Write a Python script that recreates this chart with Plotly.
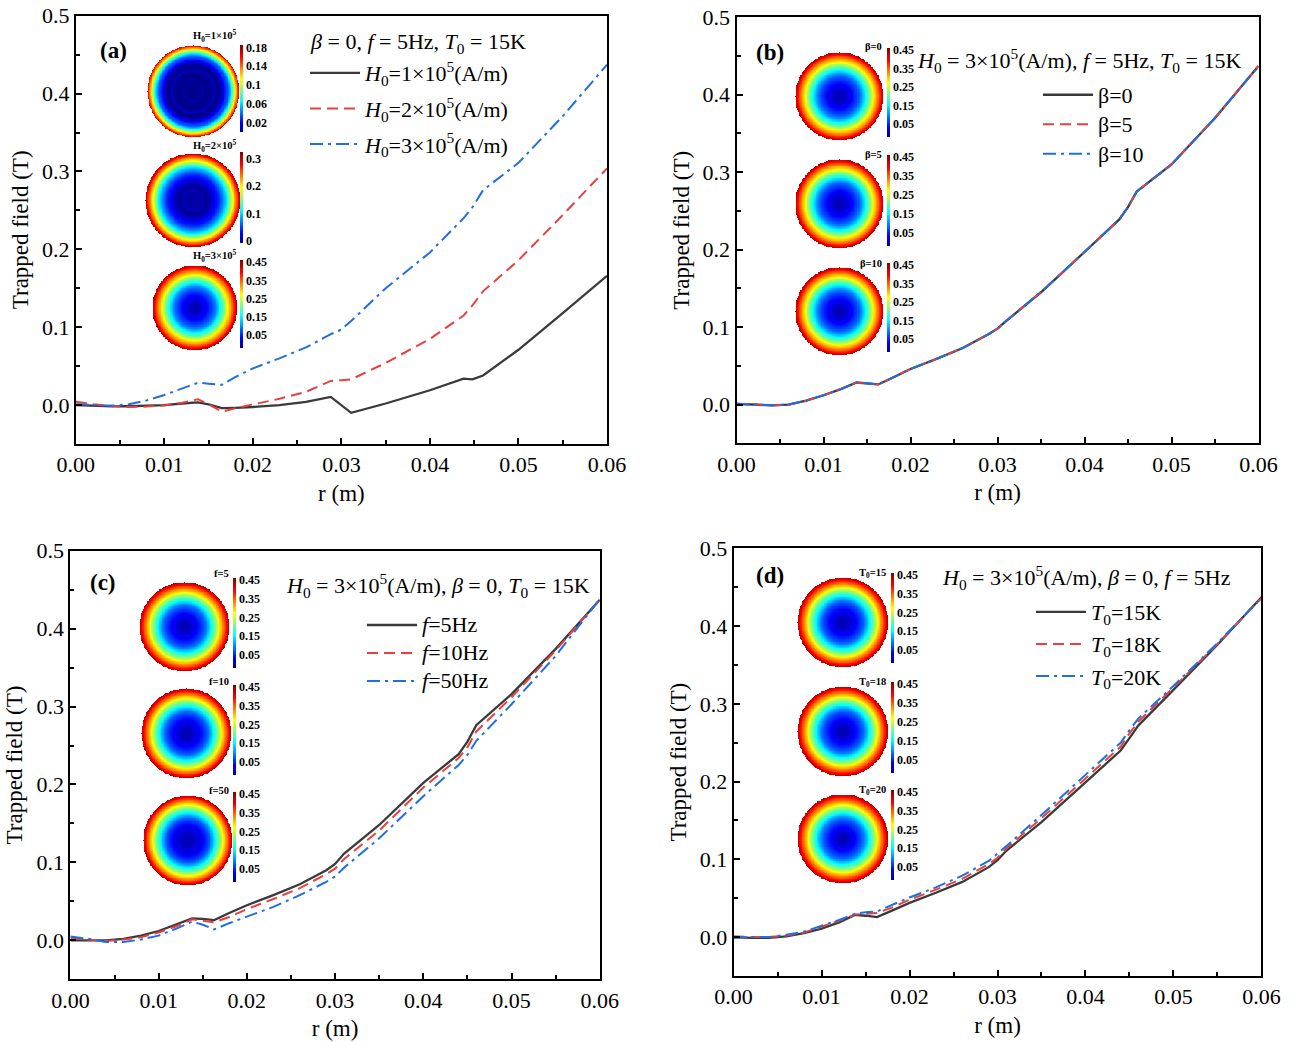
import numpy as np
import plotly.graph_objects as go

W, H = 1293, 1042
FONT = "Liberation Serif, Times New Roman, serif"

# ---------------- data ----------------
# (a) varying applied field amplitude H0
r_a = [0.000, 0.002, 0.004, 0.006, 0.008, 0.010, 0.012, 0.0138, 0.0150, 0.0165, 0.018, 0.020,
       0.023, 0.026, 0.0288, 0.030, 0.0311, 0.035, 0.040, 0.0438, 0.0448, 0.046, 0.050, 0.055, 0.060]
b_H0_1e5 = [0.000, -0.001, -0.0015, -0.0015, -0.001, 0.000, 0.002, 0.0035, 0.001, -0.004, -0.0035, -0.0025,
            0.000, 0.004, 0.0105, -0.0003, -0.0100, 0.002, 0.019, 0.034, 0.033, 0.038, 0.071, 0.118, 0.166]
b_H0_2e5 = [0.0043, 0.001, -0.001, -0.0025, -0.002, -0.0005, 0.003, 0.0075, 0.001, -0.0085, -0.004, 0.001,
            0.008, 0.017, 0.031, 0.032, 0.033, 0.054, 0.085, 0.115, 0.128, 0.146, 0.186, 0.244, 0.304]
b_H0_3e5 = [0.001, 0.000, -0.001, 0.001, 0.006, 0.013, 0.021, 0.0287, 0.0275, 0.026, 0.036, 0.047,
            0.060, 0.074, 0.091, 0.097, 0.108, 0.150, 0.196, 0.240, 0.254, 0.276, 0.311, 0.371, 0.437]

# common radial grid for (b), (c), (d)
r_s = [0.000, 0.002, 0.004, 0.006, 0.008, 0.010, 0.012, 0.0138, 0.0150, 0.0163, 0.018, 0.020,
       0.023, 0.026, 0.029, 0.030, 0.031, 0.035, 0.040, 0.044, 0.045, 0.046, 0.050, 0.055, 0.060]

# (b) varying beta -- the three curves coincide
b_beta0 = [0.001, 0.000, -0.001, 0.000, 0.005, 0.012, 0.020, 0.0285, 0.0275, 0.026, 0.035, 0.046,
           0.059, 0.073, 0.091, 0.098, 0.108, 0.145, 0.197, 0.239, 0.255, 0.275, 0.310, 0.370, 0.437]
b_beta5 = list(b_beta0)
b_beta10 = list(b_beta0)

# (c) varying frequency
b_f5 = [0.000, 0.000, 0.000, 0.002, 0.006, 0.012, 0.020, 0.028, 0.0275, 0.026, 0.035, 0.045,
        0.058, 0.072, 0.090, 0.098, 0.111, 0.148, 0.202, 0.239, 0.255, 0.276, 0.316, 0.374, 0.437]
b_f10 = [0.003, 0.001, -0.001, 0.001, 0.004, 0.010, 0.018, 0.027, 0.025, 0.023, 0.030, 0.040,
         0.053, 0.067, 0.085, 0.092, 0.104, 0.141, 0.196, 0.234, 0.248, 0.268, 0.312, 0.372, 0.437]
b_f50 = [0.005, 0.002, -0.002, -0.002, 0.001, 0.006, 0.015, 0.024, 0.020, 0.014, 0.022, 0.030,
         0.043, 0.058, 0.075, 0.082, 0.093, 0.131, 0.185, 0.225, 0.238, 0.256, 0.303, 0.365, 0.438]

# (d) varying operating temperature
b_T15 = [0.000, -0.001, -0.001, 0.001, 0.005, 0.011, 0.019, 0.0285, 0.0275, 0.0257, 0.034, 0.044,
         0.057, 0.071, 0.090, 0.099, 0.111, 0.148, 0.199, 0.240, 0.256, 0.272, 0.318, 0.376, 0.437]
b_T18 = [0.001, 0.000, 0.000, 0.002, 0.006, 0.013, 0.021, 0.029, 0.030, 0.031, 0.038, 0.048,
         0.061, 0.075, 0.094, 0.102, 0.114, 0.153, 0.204, 0.245, 0.262, 0.277, 0.321, 0.377, 0.436]
b_T20 = [-0.001, 0.000, 0.000, 0.003, 0.007, 0.014, 0.022, 0.030, 0.032, 0.033, 0.041, 0.051,
         0.064, 0.079, 0.098, 0.107, 0.117, 0.157, 0.208, 0.250, 0.266, 0.281, 0.323, 0.378, 0.436]

x_ticks = [0.00, 0.01, 0.02, 0.03, 0.04, 0.05, 0.06]
y_ticks = [0.0, 0.1, 0.2, 0.3, 0.4, 0.5]

# ---------------- styles ----------------
STYLE = {
    "k": dict(color="#3a3a3a", width=2.3, dash="solid"),
    "r": dict(color="#e8403f", width=2.0, dash="11px,6px"),
    "b": dict(color="#1f6fdf", width=2.0, dash="13px,5px,3px,5px"),
}

# classic jet colour map
JET = [[0.0, "#00008f"], [0.11, "#0000ff"], [0.36, "#00ffff"], [0.61, "#ffff00"],
       [0.86, "#ff0000"], [1.0, "#800000"]]

def fx(p):
    return p / W

def fy(p):
    return 1 - p / H

def big(txt, size=22):
    return f"<span style='font-size:{size}px'>{txt}</span>"

# panel geometry in pixels: x-left, x-right, y-top, y-bottom
panels = [
    dict(box=(75.8, 607.0, 15.7, 444.0), label="(a)", label_xy=(113, 50),
         header="<i>β</i> = 0, <i>f</i> = 5Hz, <i>T</i><sub>0</sub> = 15K", header_xy=(308, 43),
         legend_xy=(305, 52), legend_fs=22, gap=4,
         series=[("<i>H</i><sub>0</sub>=1×10<sup>5</sup>(A/m)", r_a, b_H0_1e5, "k"),
                 ("<i>H</i><sub>0</sub>=2×10<sup>5</sup>(A/m)", r_a, b_H0_2e5, "r"),
                 ("<i>H</i><sub>0</sub>=3×10<sup>5</sup>(A/m)", r_a, b_H0_3e5, "b")],
         insets=dict(
             disks=[(147, 239, 45, 137), (145, 240, 153, 247), (152, 237, 265, 350)],
             cbx=240, bars=[(45, 132), (152, 243), (260, 348)],
             titles=["H<sub>0</sub>=1×10<sup>5</sup>", "H<sub>0</sub>=2×10<sup>5</sup>",
                     "H<sub>0</sub>=3×10<sup>5</sup>"],
             title_x=239, title_y=[36, 146, 256],
             scales=[(0.0, 0.185, [0.02, 0.06, 0.1, 0.14, 0.18], ["0.02", "0.06", "0.1", "0.14", "0.18"]),
                     (-0.008, 0.323, [0, 0.1, 0.2, 0.3], ["0", "0.1", "0.2", "0.3"]),
                     None])),
    dict(box=(736.5, 1258.5, 17.3, 443.3), label="(b)", label_xy=(770, 52),
         header="<i>H</i><sub>0</sub> = 3×10<sup>5</sup>(A/m), <i>f</i> = 5Hz, <i>T</i><sub>0</sub> = 15K",
         header_xy=(915, 60), legend_xy=(1038, 75), legend_fs=20.4, gap=0,
         series=[("β=0", r_s, b_beta0, "k"), ("β=5", r_s, b_beta5, "r"), ("β=10", r_s, b_beta10, "b")],
         insets=dict(
             disks=[(795, 883, 52, 140), (795, 883, 159, 248), (795, 883, 267, 355)],
             cbx=887, bars=[(48, 137), (155, 246), (263, 352)],
             titles=["β=0", "β=5", "β=10"], title_x=884, title_y=[46, 154, 263],
             scales=[None, None, None])),
    dict(box=(70.4, 599.8, 550.7, 979.3), label="(c)", label_xy=(103, 582),
         header="<i>H</i><sub>0</sub> = 3×10<sup>5</sup>(A/m), <i>β</i> = 0, <i>T</i><sub>0</sub> = 15K",
         header_xy=(284, 585), legend_xy=(362, 606), legend_fs=19.2, gap=0,
         series=[("<i>f</i>=5Hz", r_s, b_f5, "k"), ("<i>f</i>=10Hz", r_s, b_f10, "r"),
                 ("<i>f</i>=50Hz", r_s, b_f50, "b")],
         insets=dict(
             disks=[(139, 229, 582, 671), (141, 231, 688, 778), (143, 232, 795, 885)],
             cbx=233, bars=[(578, 668), (685, 775), (792, 882)],
             titles=["f=5", "f=10", "f=50"], title_x=231, title_y=[573, 681, 790],
             scales=[None, None, None])),
    dict(box=(733.6, 1261.4, 548.3, 976.0), label="(d)", label_xy=(770, 575),
         header="<i>H</i><sub>0</sub> = 3×10<sup>5</sup>(A/m), <i>β</i> = 0, <i>f</i> = 5Hz",
         header_xy=(940, 577), legend_xy=(1031, 591), legend_fs=22, gap=0.5,
         series=[("<i>T</i><sub>0</sub>=15K", r_s, b_T15, "k"), ("<i>T</i><sub>0</sub>=18K", r_s, b_T18, "r"),
                 ("<i>T</i><sub>0</sub>=20K", r_s, b_T20, "b")],
         insets=dict(
             disks=[(797, 888, 577, 667), (797, 888, 686, 776), (797, 888, 794, 883)],
             cbx=891, bars=[(573, 663), (682, 773), (790, 880)],
             titles=["T<sub>0</sub>=15", "T<sub>0</sub>=18", "T<sub>0</sub>=20"], title_x=888,
             title_y=[573, 682, 790],
             scales=[None, None, None])),
]

DEFAULT_SCALE = (-0.02, 0.462, [0.05, 0.15, 0.25, 0.35, 0.45], ["0.05", "0.15", "0.25", "0.35", "0.45"])

fig = go.Figure()
layout = dict(template="none", width=W, height=H, margin=dict(l=0, r=0, t=0, b=0, pad=0), autosize=False,
              paper_bgcolor="white", plot_bgcolor="rgba(0,0,0,0)",
              font=dict(family=FONT, color="black"), showlegend=True)
annotations = []

# grid for the disk insets (radial profile mapped onto the cross-section)
g = np.linspace(-0.06, 0.06, 121)
GX, GY = np.meshgrid(g, g)
GR = np.sqrt(GX ** 2 + GY ** 2)

ax_n = 5
for i, p in enumerate(panels):
    n = i + 1
    xa = "xaxis" if n == 1 else f"xaxis{n}"
    ya = "yaxis" if n == 1 else f"yaxis{n}"
    xref = "x" if n == 1 else f"x{n}"
    yref = "y" if n == 1 else f"y{n}"
    leg = "legend" if n == 1 else f"legend{n}"
    x0, x1, y0, y1 = p["box"]

    common = dict(showline=True, linewidth=2, linecolor="black", mirror=True, ticks="inside",
                  ticklen=6, tickwidth=1.5, tickcolor="black", showgrid=False, zeroline=False,
                  automargin=False, tickfont=dict(family=FONT, size=22, color="black"))
    layout[xa] = dict(common, domain=[fx(x0), fx(x1)], range=[0, 0.06], tickvals=x_ticks,
                      ticktext=[f"{v:.2f}" for v in x_ticks], anchor=yref,
                      minor=dict(ticks="inside", ticklen=4, tickwidth=1.5, tickcolor="black", dtick=0.005),
                      title=dict(text="r (m)", font=dict(family=FONT, size=23), standoff=8))
    layout[ya] = dict(common, domain=[fy(y1), fy(y0)], range=[-0.05, 0.5], tickvals=y_ticks,
                      ticktext=[f"{v:.1f}" for v in y_ticks], anchor=xref,
                      minor=dict(ticks="inside", ticklen=4, tickwidth=1.5, tickcolor="black", dtick=0.05),
                      title=dict(text="Trapped field (T)", font=dict(family=FONT, size=23), standoff=7))

    for j, (name, rr, vals, st) in enumerate(p["series"]):
        fig.add_trace(go.Scatter(x=rr, y=vals, mode="lines", name=big(name), line=STYLE[st],
                                 xaxis=xref, yaxis=yref, legend=leg, legendgroup=f"{leg}_{j}",
                                 hoverinfo="skip"))

    lx, ly = p["legend_xy"]
    layout[leg] = dict(x=fx(lx), y=fy(ly), xanchor="left", yanchor="top", bgcolor="rgba(0,0,0,0)",
                       borderwidth=0, tracegroupgap=p["gap"], itemwidth=50,
                       font=dict(family=FONT, size=p["legend_fs"], color="black"))

    annotations.append(dict(text=f"<b>{p['label']}</b>", x=fx(p["label_xy"][0]), y=fy(p["label_xy"][1]),
                            xref="paper", yref="paper", showarrow=False, xanchor="center", yanchor="middle",
                            font=dict(family=FONT, size=23, color="black")))
    annotations.append(dict(text=p["header"], x=fx(p["header_xy"][0]), y=fy(p["header_xy"][1]),
                            xref="paper", yref="paper", showarrow=False, xanchor="left", yanchor="middle",
                            font=dict(family=FONT, size=22, color="black")))

    ins = p["insets"]
    for k, (name, rr, vals, st) in enumerate(p["series"]):
        dx0, dx1, dy0, dy1 = ins["disks"][k]
        ixa, iya = f"xaxis{ax_n}", f"yaxis{ax_n}"
        ixr, iyr = f"x{ax_n}", f"y{ax_n}"
        layout[ixa] = dict(domain=[fx(dx0), fx(dx1)], range=[-0.06, 0.06], visible=False, anchor=iyr,
                           fixedrange=True, automargin=False)
        layout[iya] = dict(domain=[fy(dy1), fy(dy0)], range=[-0.06, 0.06], visible=False, anchor=ixr,
                           fixedrange=True, automargin=False)
        Z = np.interp(GR, rr, vals)
        Z = np.where(GR <= 0.06, Z, np.nan)
        zmin, zmax, tv, tt = ins["scales"][k] or DEFAULT_SCALE
        by0, by1 = ins["bars"][k]
        fig.add_trace(go.Heatmap(
            x=g, y=g, z=Z, colorscale=JET, zmin=zmin, zmax=zmax, zsmooth="best",
            xaxis=ixr, yaxis=iyr, hoverinfo="skip", showlegend=False,
            colorbar=dict(x=fx(ins["cbx"]), xanchor="left", y=fy((by0 + by1) / 2), yanchor="middle",
                          len=by1 - by0, lenmode="pixels", thickness=3, thicknessmode="pixels",
                          xpad=0, ypad=0, outlinewidth=0, ticks="", tickvals=tv, ticktext=tt,
                          tickfont=dict(family=FONT, size=12, color="black", weight="bold"))))
        annotations.append(dict(text=f"<b>{ins['titles'][k]}</b>", x=fx(ins["title_x"]), y=fy(ins["title_y"][k]),
                                xref="paper", yref="paper", showarrow=False, xanchor="right",
                                yanchor="middle", font=dict(family=FONT, size=10.5, color="black")))
        ax_n += 1

layout["annotations"] = annotations
fig.update_layout(**layout)
fig.write_html("out.html")
